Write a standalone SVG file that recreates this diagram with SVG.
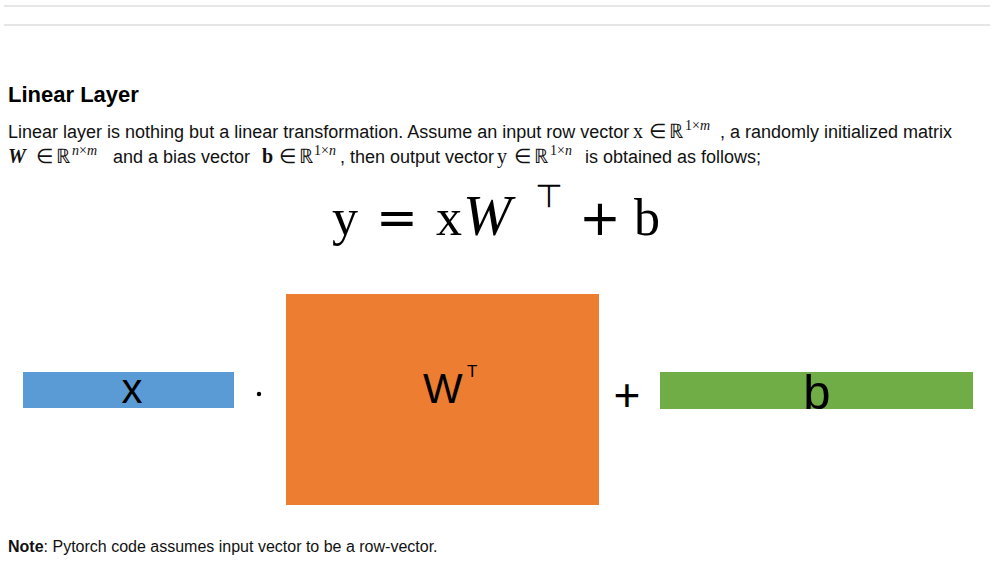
<svg xmlns="http://www.w3.org/2000/svg" width="994" height="568" viewBox="0 0 994 568">
<style>
.t{font-family:"Liberation Sans",Arial,sans-serif;font-size:18px;fill:#111}
.note{font-family:"Liberation Sans",Arial,sans-serif;font-size:16px;fill:#111}
.m{font-family:"Liberation Serif","Times New Roman",serif;font-size:20px}
.mi{font-family:"Liberation Serif","Times New Roman",serif;font-style:italic;font-size:20px}
.s{font-family:"Liberation Serif","Times New Roman",serif;font-size:14px}
.si{font-family:"Liberation Serif","Times New Roman",serif;font-style:italic;font-size:14px}
.lbl{font-family:"Liberation Sans",Arial,sans-serif;fill:#000}
.rule{stroke:#e6e6e6;stroke-width:2}
</style>
<rect width="994" height="568" fill="#fff"/>
<line class="rule" x1="4" y1="6" x2="990" y2="6"/>
<line class="rule" x1="4" y1="25" x2="990" y2="25"/>
<text x="8" y="102" font-family="Liberation Sans,Arial,sans-serif" font-size="22" font-weight="bold" fill="#000">Linear Layer</text>
<text class="t" y="138"><tspan x="8">Linear layer is nothing but a linear transformation. Assume an input row vector</tspan><tspan class="m" x="633">x</tspan><tspan class="m" x="649">∈</tspan><tspan class="m" x="669">ℝ</tspan><tspan class="s" x="685" y="130">1×</tspan><tspan class="si" y="130">m</tspan><tspan y="138" x="720">, a randomly initialized matrix</tspan></text>
<text class="t" y="163"><tspan class="mi" x="8" font-weight="bold">W</tspan><tspan class="m" x="36">∈</tspan><tspan class="m" x="56">ℝ</tspan><tspan class="si" x="72" y="155">n</tspan><tspan class="s" y="155">×</tspan><tspan class="si" y="155">m</tspan><tspan x="108" y="163"> and a bias vector</tspan><tspan class="m" x="262" font-weight="bold">b</tspan><tspan class="m" x="279">∈</tspan><tspan class="m" x="299">ℝ</tspan><tspan class="s" x="314" y="155">1×</tspan><tspan class="si" y="155">n</tspan><tspan x="340" y="163">, then output vector</tspan><tspan class="m" x="497">y</tspan><tspan class="m" x="514">∈</tspan><tspan class="m" x="534">ℝ</tspan><tspan class="s" x="550" y="155">1×</tspan><tspan class="si" y="155">n</tspan><tspan x="580" y="163"> is obtained as follows;</tspan></text>
<g id="formula" fill="#000">
<text y="235" font-size="52" font-family="Liberation Serif,Times New Roman,serif"><tspan x="332">y</tspan><tspan x="436">x</tspan><tspan x="634">b</tspan></text>
<text y="235" font-size="50" font-family="DejaVu Sans,sans-serif"><tspan x="376">=</tspan><tspan x="579">+</tspan></text>
<text x="463" y="235" font-size="58" font-style="italic" font-family="Liberation Serif,Times New Roman,serif">W</text>
<text x="549" y="207" font-size="32" text-anchor="middle" font-family="DejaVu Sans,sans-serif">⊤</text>
</g>
<g id="node-x">
<rect x="23" y="372" width="211" height="36" fill="#5b9bd5"/>
<text class="lbl" x="132" y="403" font-size="42" text-anchor="middle">x</text>
</g>
<g id="connectors">
<circle cx="259" cy="394" r="2.2" fill="#000"/>
<text class="lbl" x="627" y="411" font-size="46" text-anchor="middle">+</text>
</g>
<g id="node-W">
<rect x="286" y="294" width="313" height="211" fill="#ed7d31"/>
<text class="lbl" x="423" y="403" font-size="42">W</text>
<text class="lbl" x="467" y="377" font-size="17">T</text>
</g>
<g id="node-b">
<rect x="660" y="372" width="313" height="37" fill="#70ad47"/>
<text class="lbl" x="817" y="409" font-size="49" text-anchor="middle">b</text>
</g>
<text class="note" x="8" y="552"><tspan font-weight="bold">Note</tspan>: Pytorch code assumes input vector to be a row-vector.</text>
</svg>
